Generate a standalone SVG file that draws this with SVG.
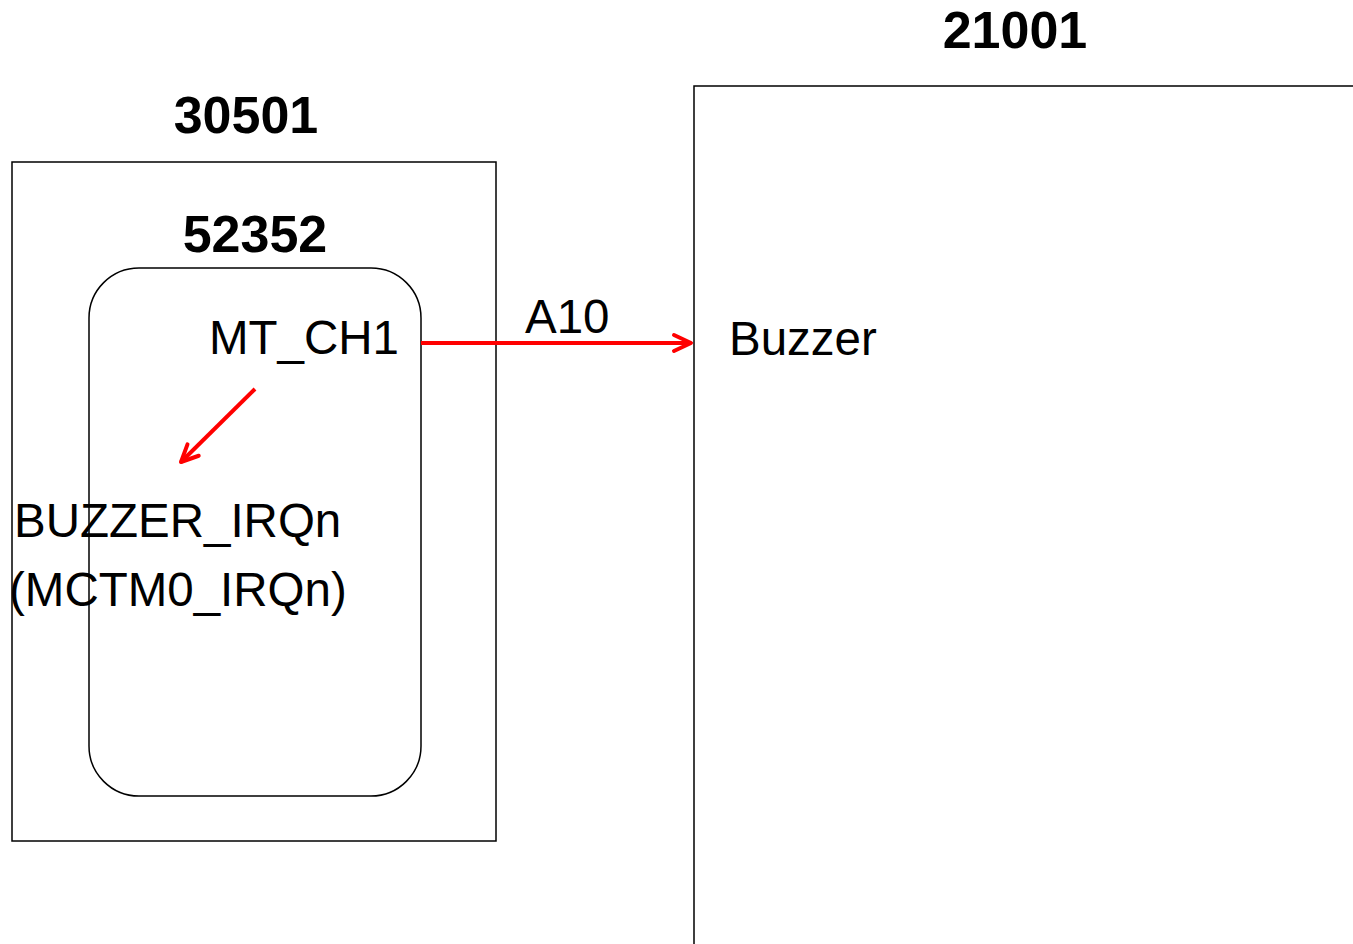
<svg xmlns="http://www.w3.org/2000/svg" width="1353" height="944" viewBox="0 0 1353 944">
<style>
.box{fill:none;stroke:#000;stroke-width:1.5}
.title{font-family:"Liberation Sans",Arial,sans-serif;font-weight:bold;font-size:52px;text-anchor:middle;fill:#000}
.lbl{font-family:"Liberation Sans",Arial,sans-serif;font-size:47.5px;fill:#000}
.conn{stroke:#ff0000;stroke-width:4;fill:none}
</style>
<defs>
<marker id="ah2" markerWidth="30" markerHeight="30" refX="25" refY="15" orient="auto" markerUnits="userSpaceOnUse">
<path d="M8,7 L25,15 L8,23" fill="none" stroke="#ff0000" stroke-width="4" stroke-linecap="round" stroke-linejoin="round"/>
</marker>
</defs>
<rect width="1353" height="944" fill="#fff"/>
<g id="n21001">
<rect class="box" x="694" y="86" width="700" height="900"/>
<text class="title" x="1015" y="48">21001</text>
<text class="lbl" x="729" y="355">Buzzer</text>
</g>
<g id="n30501">
<rect class="box" x="12" y="162" width="484" height="679"/>
<text class="title" x="246" y="133">30501</text>
</g>
<g id="n52352">
<rect class="box" x="89" y="268" width="332" height="528" rx="50" ry="50"/>
<text class="title" x="255" y="252">52352</text>
<text class="lbl" x="209" y="354">MT_CH1</text>
<text class="lbl" x="14" y="537">BUZZER_IRQn</text>
<text class="lbl" x="9" y="606">(MCTM0_IRQn)</text>
</g>
<g id="connectors">
<line class="conn" x1="421" y1="343" x2="691" y2="343" marker-end="url(#ah2)"/>
<text class="lbl" x="525" y="333">A10</text>
<line class="conn" x1="255" y1="389" x2="181" y2="462" marker-end="url(#ah2)"/>
</g>
</svg>
